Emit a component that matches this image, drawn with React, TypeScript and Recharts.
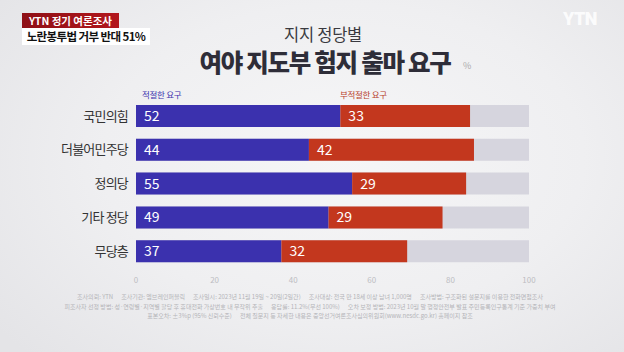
import React from "react"
import { BarChart, Bar, XAxis, YAxis, LabelList } from "recharts"

const parties = ["국민의힘", "더불어민주당", "정의당", "기타 정당", "무당층"]
const appropriate = [52, 44, 55, 49, 37]
const inappropriate = [33, 42, 29, 29, 32]
const xTicks = [0, 20, 40, 60, 80, 100]

const footerLines = [
  "조사의뢰: YTN      조사기관: 엠브레인퍼블릭      조사일시: 2023년 11월 19일 ~ 20일(2일간)      조사대상: 전국 만 18세 이상 남녀 1,000명      조사방법: 구조화된 설문지를 이용한 전화면접조사",
  "피조사자 선정 방법: 성·연령별·지역별 할당 후 휴대전화 가상번호 내 무작위 추출      응답률: 11.2%(무선 100%)      오차 보정 방법: 2023년 10월 말 행정안전부 발표 주민등록인구통계 기준 가중치 부여",
  "표본오차: ±3%p (95% 신뢰수준)      전체 질문지 등 자세한 내용은 중앙선거여론조사심의위원회(www.nesdc.go.kr) 홈페이지 참조",
]

const data = parties.map((name, i) => ({
  name,
  적절: appropriate[i],
  부적절: inappropriate[i],
}))

const FONT = '"Noto Sans CJK KR", "Noto Sans", sans-serif'
const BLUE = "#3b31ae"
const RED = "#c3371e"
const GRAY = "#d6d5de"

export default function App() {
  return (
    <div
      style={{
        position: "absolute",
        left: 0,
        top: 0,
        width: 624,
        height: 352,
        overflow: "hidden",
        fontFamily: FONT,
        background:
          "radial-gradient(ellipse 70% 80% at 55% 45%, #f6f6f7 0%, #efeff1 55%, #e4e4e7 100%)",
      }}
    >
      {/* top-left badge */}
      <div
        style={{
          position: "absolute",
          left: 22,
          top: 13,
          width: 97,
          height: 15,
          background: "linear-gradient(90deg, #8e1016, #b3171d)",
          color: "#fff",
          fontSize: 10.5,
          fontWeight: 700,
          lineHeight: "15px",
          textAlign: "center",
          whiteSpace: "nowrap",
        }}
      >
        YTN 정기 여론조사
      </div>
      <div
        style={{
          position: "absolute",
          left: 22,
          top: 28,
          width: 128,
          height: 17,
          background: "#fff",
          color: "#111",
          fontSize: 11.5,
          fontWeight: 700,
          lineHeight: "17px",
          textAlign: "center",
          letterSpacing: -0.6,
          whiteSpace: "nowrap",
        }}
      >
        노란봉투법 거부 반대 51%
      </div>
      <div
        style={{
          position: "absolute",
          left: 563,
          top: 8,
          fontFamily: "Roboto, sans-serif",
          fontSize: 18,
          fontWeight: 900,
          color: "rgba(255,255,255,0.85)",
          letterSpacing: -0.5,
        }}
      >
        YTN
      </div>

      {/* titles */}
      <div
        style={{
          position: "absolute",
          left: 0,
          width: 646,
          top: 26,
          height: 17,
          textAlign: "center",
          fontSize: 16.5,
          lineHeight: "17px",
          color: "#3a3a40",
          fontWeight: 400,
          letterSpacing: -0.3,
          whiteSpace: "nowrap",
        }}
      >
        지지 정당별
      </div>
      <div
        style={{
          position: "absolute",
          left: 0,
          width: 650,
          top: 49,
          height: 25,
          textAlign: "center",
          fontSize: 24.5,
          lineHeight: "25px",
          color: "#2e2d38",
          fontWeight: 900,
          letterSpacing: -1.3,
          whiteSpace: "nowrap",
        }}
      >
        여야 지도부 험지 출마 요구
      </div>
      <div
        style={{ position: "absolute", left: 463, top: 59, fontSize: 9, color: "#aaa" }}
      >
        %
      </div>

      {/* legend labels */}
      <div
        style={{ position: "absolute", left: 142, top: 88, fontSize: 8.5, color: BLUE, letterSpacing: -0.3 }}
      >
        적절한 요구
      </div>
      <div
        style={{ position: "absolute", left: 340, top: 88, fontSize: 8.5, color: "#b8402c", letterSpacing: -0.3 }}
      >
        부적절한 요구
      </div>

      <div style={{ position: "absolute", left: 0, top: 0 }}>
        <BarChart
          width={624}
          height={352}
          data={data}
          layout="vertical"
          margin={{ top: 99, right: 95, bottom: 64, left: 0 }}
          barSize={22}
        >
          <XAxis
            type="number"
            domain={[0, 100]}
            ticks={xTicks}
            axisLine={false}
            tickLine={false}
            tickMargin={3}
            height={20}
            tick={{ fill: "#bdbdc2", fontSize: 8, fontFamily: FONT }}
          />
          <YAxis
            type="category"
            dataKey="name"
            width={136}
            axisLine={false}
            tickLine={false}
            tickSize={0}
            tickMargin={8}
            tick={{ fill: "#333", fontSize: 13, fontFamily: FONT, letterSpacing: -0.8 }}
          />
          <Bar
            dataKey="적절"
            stackId="s"
            fill={BLUE}
            background={{ fill: GRAY }}
            isAnimationActive={false}
          >
            <LabelList
              dataKey="적절"
              position="insideLeft"
              offset={8}
              fill="#fff"
              fontSize={14}
              fontFamily={FONT}
            />
          </Bar>
          <Bar dataKey="부적절" stackId="s" fill={RED} isAnimationActive={false}>
            <LabelList
              dataKey="부적절"
              position="insideLeft"
              offset={8}
              fill="#fff"
              fontSize={14}
              fontFamily={FONT}
            />
          </Bar>
        </BarChart>
      </div>

      {/* footer */}
      <div
        style={{
          position: "absolute",
          left: 0,
          width: 620,
          top: 292,
          textAlign: "center",
          fontSize: 6,
          lineHeight: "9.5px",
          color: "#b4b4b8",
          whiteSpace: "pre",
        }}
      >
        {footerLines.map((l) => (
          <div key={l}>{l}</div>
        ))}
      </div>
    </div>
  )
}
